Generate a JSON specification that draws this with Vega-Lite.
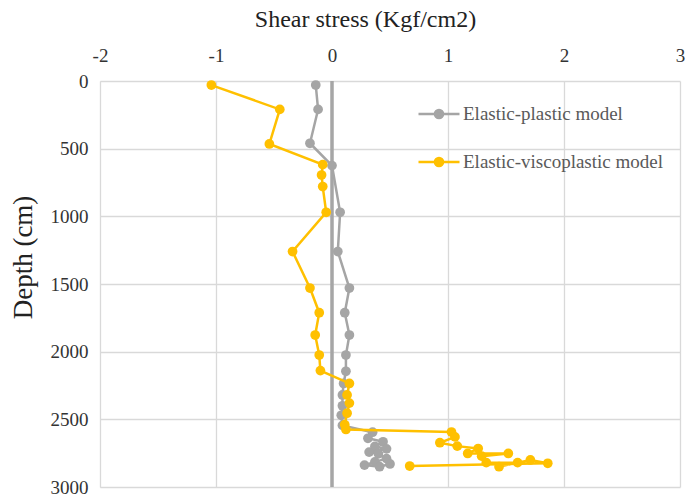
{
  "$schema": "https://vega.github.io/schema/vega-lite/v6.json",
  "width": 580,
  "height": 406,
  "autosize": {"type": "none"},
  "padding": {"left": 100, "top": 81, "right": 7, "bottom": 11},
  "background": "white",
  "config": {
    "view": {"stroke": null},
    "font": "Liberation Serif"
  },
  "datasets": {
    "pts": [
      {"series": "Elastic-plastic model", "i": 1, "depth": 30, "stress": -0.14},
      {"series": "Elastic-plastic model", "i": 2, "depth": 210, "stress": -0.12},
      {"series": "Elastic-plastic model", "i": 3, "depth": 460, "stress": -0.19},
      {"series": "Elastic-plastic model", "i": 4, "depth": 625, "stress": 0.0},
      {"series": "Elastic-plastic model", "i": 5, "depth": 970, "stress": 0.07},
      {"series": "Elastic-plastic model", "i": 6, "depth": 1260, "stress": 0.05},
      {"series": "Elastic-plastic model", "i": 7, "depth": 1530, "stress": 0.15},
      {"series": "Elastic-plastic model", "i": 8, "depth": 1712, "stress": 0.11},
      {"series": "Elastic-plastic model", "i": 9, "depth": 1877, "stress": 0.15},
      {"series": "Elastic-plastic model", "i": 10, "depth": 2025, "stress": 0.12},
      {"series": "Elastic-plastic model", "i": 11, "depth": 2145, "stress": 0.12},
      {"series": "Elastic-plastic model", "i": 12, "depth": 2235, "stress": 0.1},
      {"series": "Elastic-plastic model", "i": 13, "depth": 2320, "stress": 0.09},
      {"series": "Elastic-plastic model", "i": 14, "depth": 2400, "stress": 0.09},
      {"series": "Elastic-plastic model", "i": 15, "depth": 2470, "stress": 0.08},
      {"series": "Elastic-plastic model", "i": 16, "depth": 2545, "stress": 0.09},
      {"series": "Elastic-plastic model", "i": 17, "depth": 2595, "stress": 0.35},
      {"series": "Elastic-plastic model", "i": 18, "depth": 2640, "stress": 0.31},
      {"series": "Elastic-plastic model", "i": 19, "depth": 2666, "stress": 0.44},
      {"series": "Elastic-plastic model", "i": 20, "depth": 2700, "stress": 0.37},
      {"series": "Elastic-plastic model", "i": 21, "depth": 2718, "stress": 0.47},
      {"series": "Elastic-plastic model", "i": 22, "depth": 2742, "stress": 0.32},
      {"series": "Elastic-plastic model", "i": 23, "depth": 2755, "stress": 0.4},
      {"series": "Elastic-plastic model", "i": 24, "depth": 2790, "stress": 0.47},
      {"series": "Elastic-plastic model", "i": 25, "depth": 2814, "stress": 0.37},
      {"series": "Elastic-plastic model", "i": 26, "depth": 2838, "stress": 0.28},
      {"series": "Elastic-plastic model", "i": 27, "depth": 2850, "stress": 0.41},
      {"series": "Elastic-plastic model", "i": 28, "depth": 2830, "stress": 0.5},
      {"series": "Elastic-viscoplastic model", "i": 1, "depth": 30, "stress": -1.04},
      {"series": "Elastic-viscoplastic model", "i": 2, "depth": 210, "stress": -0.45},
      {"series": "Elastic-viscoplastic model", "i": 3, "depth": 465, "stress": -0.54},
      {"series": "Elastic-viscoplastic model", "i": 4, "depth": 618, "stress": -0.08},
      {"series": "Elastic-viscoplastic model", "i": 5, "depth": 695, "stress": -0.09},
      {"series": "Elastic-viscoplastic model", "i": 6, "depth": 780, "stress": -0.08},
      {"series": "Elastic-viscoplastic model", "i": 7, "depth": 970, "stress": -0.05},
      {"series": "Elastic-viscoplastic model", "i": 8, "depth": 1260, "stress": -0.34},
      {"series": "Elastic-viscoplastic model", "i": 9, "depth": 1530, "stress": -0.19},
      {"series": "Elastic-viscoplastic model", "i": 10, "depth": 1712, "stress": -0.11},
      {"series": "Elastic-viscoplastic model", "i": 11, "depth": 1877, "stress": -0.145},
      {"series": "Elastic-viscoplastic model", "i": 12, "depth": 2025, "stress": -0.11},
      {"series": "Elastic-viscoplastic model", "i": 13, "depth": 2140, "stress": -0.1},
      {"series": "Elastic-viscoplastic model", "i": 14, "depth": 2235, "stress": 0.15},
      {"series": "Elastic-viscoplastic model", "i": 15, "depth": 2320, "stress": 0.13},
      {"series": "Elastic-viscoplastic model", "i": 16, "depth": 2380, "stress": 0.15},
      {"series": "Elastic-viscoplastic model", "i": 17, "depth": 2455, "stress": 0.13},
      {"series": "Elastic-viscoplastic model", "i": 18, "depth": 2540, "stress": 0.11},
      {"series": "Elastic-viscoplastic model", "i": 19, "depth": 2575, "stress": 0.12},
      {"series": "Elastic-viscoplastic model", "i": 20, "depth": 2594, "stress": 1.03},
      {"series": "Elastic-viscoplastic model", "i": 21, "depth": 2630, "stress": 1.06},
      {"series": "Elastic-viscoplastic model", "i": 22, "depth": 2673, "stress": 0.93},
      {"series": "Elastic-viscoplastic model", "i": 23, "depth": 2698, "stress": 1.08},
      {"series": "Elastic-viscoplastic model", "i": 24, "depth": 2716, "stress": 1.26},
      {"series": "Elastic-viscoplastic model", "i": 25, "depth": 2752, "stress": 1.17},
      {"series": "Elastic-viscoplastic model", "i": 26, "depth": 2752, "stress": 1.52},
      {"series": "Elastic-viscoplastic model", "i": 27, "depth": 2772, "stress": 1.29},
      {"series": "Elastic-viscoplastic model", "i": 28, "depth": 2820, "stress": 1.33},
      {"series": "Elastic-viscoplastic model", "i": 29, "depth": 2820, "stress": 1.6},
      {"series": "Elastic-viscoplastic model", "i": 30, "depth": 2850, "stress": 1.44},
      {"series": "Elastic-viscoplastic model", "i": 31, "depth": 2800, "stress": 1.71},
      {"series": "Elastic-viscoplastic model", "i": 32, "depth": 2825, "stress": 1.86},
      {"series": "Elastic-viscoplastic model", "i": 33, "depth": 2845, "stress": 0.67}
    ]
  },
  "encoding": {
    "x": {
      "field": "stress", "type": "quantitative",
      "scale": {"domain": [-2, 3], "nice": false, "zero": false},
      "axis": {
        "orient": "top", "title": "Shear stress (Kgf/cm2)", "values": [-2, -1, 0, 1, 2, 3],
        "labelExpr": "datum.value + ''",
        "grid": true, "gridColor": "#d9d9d9", "gridWidth": 1.3, "domain": false, "ticks": false,
        "labelFont": "Liberation Serif", "labelFontSize": 19, "labelColor": "#333333", "labelPadding": 16,
        "labelFlush": false,
        "titleFont": "Liberation Serif", "titleFontSize": 24, "titleFontWeight": "normal", "titleColor": "#222222",
        "titleX": 265, "titleY": -55, "titleBaseline": "alphabetic"
      }
    },
    "y": {
      "field": "depth", "type": "quantitative",
      "scale": {"domain": [0, 3000], "reverse": true, "nice": false},
      "axis": {
        "title": "Depth (cm)", "values": [0, 500, 1000, 1500, 2000, 2500, 3000],
        "labelExpr": "datum.value + ''",
        "grid": true, "gridColor": "#d9d9d9", "gridWidth": 1.3, "domain": true, "domainColor": "#d9d9d9", "ticks": false,
        "labelFont": "Liberation Serif", "labelFontSize": 19, "labelColor": "#333333", "labelPadding": 12,
        "labelFlush": false,
        "titleFont": "Liberation Serif", "titleFontSize": 27, "titleFontWeight": "normal", "titleColor": "#222222",
        "titleAngle": -90, "titleX": -77, "titleY": 176, "titleAlign": "center", "titleBaseline": "middle"
      }
    },
    "color": {
      "field": "series", "type": "nominal",
      "scale": {"domain": ["Elastic-plastic model", "Elastic-viscoplastic model"], "range": ["#a5a5a5", "#ffc000"]},
      "legend": {
        "title": null, "orient": "none", "legendX": 317, "legendY": 11, "padding": 0,
        "symbolType": "M-1,0L1,0M-0.2,0a0.2,0.2 0 1,0 0.4,0a0.2,0.2 0 1,0 -0.4,0",
        "symbolSize": 1681, "symbolStrokeWidth": 2.5,
        "labelFont": "Liberation Serif", "labelFontSize": 19, "labelColor": "#595959", "labelOffset": 2,
        "labelLimit": 400,
        "rowPadding": 16,
        "encode": {"symbols": {"update": {
          "fill": {"scale": "color", "field": "value"},
          "stroke": {"scale": "color", "field": "value"},
          "strokeWidth": {"value": 2.5},
          "opacity": {"value": 1}
        }}}
      }
    }
  },
  "layer": [
    {
      "data": {"values": [{"zero": 0}]},
      "mark": {"type": "rule", "color": "#a6a6a6", "strokeWidth": 3.5},
      "encoding": {"x": {"field": "zero", "type": "quantitative"}, "y": null, "color": null}
    },
    {
      "data": {"name": "pts"},
      "transform": [{"filter": "datum.series === 'Elastic-plastic model'"}],
      "mark": {"type": "line", "strokeWidth": 2.5},
      "encoding": {"order": {"field": "i", "type": "quantitative"}}
    },
    {
      "data": {"name": "pts"},
      "transform": [{"filter": "datum.series === 'Elastic-plastic model'"}],
      "mark": {"type": "point", "filled": true, "size": 95, "opacity": 1}
    },
    {
      "data": {"name": "pts"},
      "transform": [{"filter": "datum.series === 'Elastic-viscoplastic model'"}],
      "mark": {"type": "line", "strokeWidth": 2.5},
      "encoding": {"order": {"field": "i", "type": "quantitative"}}
    },
    {
      "data": {"name": "pts"},
      "transform": [{"filter": "datum.series === 'Elastic-viscoplastic model'"}],
      "mark": {"type": "point", "filled": true, "size": 95, "opacity": 1}
    }
  ]
}
